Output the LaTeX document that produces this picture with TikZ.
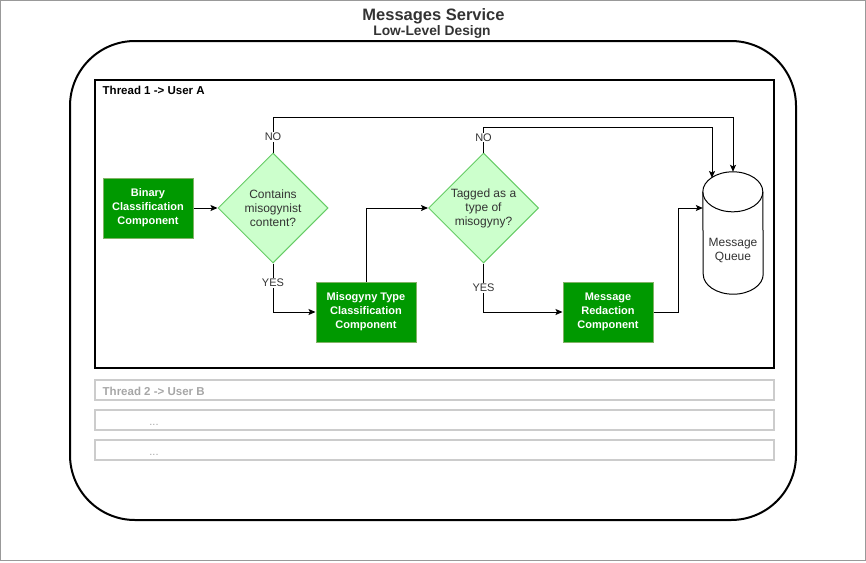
\documentclass[tikz,border=0pt]{standalone}
\usepackage{fontspec}
\setmainfont{Liberation Sans}
\usetikzlibrary{shapes.geometric,arrows.meta,positioning}

\definecolor{boxgreen}{HTML}{009900}
\definecolor{boxedge}{HTML}{82B366}
\definecolor{decfill}{HTML}{CCFFCC}
\definecolor{decedge}{HTML}{66CC66}
\definecolor{txtdark}{HTML}{333333}
\definecolor{thrgray}{HTML}{CCCCCC}
\definecolor{thrtext}{HTML}{A6A6A6}
\definecolor{pagegray}{HTML}{999999}

\tikzset{
	comp/.style={rectangle,fill=boxgreen,draw=boxedge,line width=1pt,text=white,
		font=\fontsize{11}{14}\selectfont\bfseries,align=center,minimum height=60pt,inner sep=0pt},
	decision/.style={diamond,aspect=1,fill=decfill,draw=decedge,line width=1pt,text=txtdark,
		font=\fontsize{12}{14}\selectfont,align=center,minimum width=110pt,minimum height=110pt,inner sep=0pt},
	lbl/.style={fill=white,text=txtdark,font=\fontsize{11}{13}\selectfont,inner sep=1pt},
	thread/.style={rectangle,line width=2pt,inner sep=0pt,minimum width=679pt},
	thrlbl/.style={font=\fontsize{11.5}{14}\selectfont\bfseries,inner sep=0pt,anchor=base west}
}

\begin{document}
\begin{tikzpicture}[x=1pt,y=-1pt,>={Stealth[length=7pt,width=6pt,inset=1.5pt]}]
			\useasboundingbox (0,0) rectangle (866,562);
			\draw [pagegray] (0.5,0.5) rectangle (865.5,560.5);
			
			% title
			\node [font=\fontsize{16.5}{18}\selectfont\bfseries,text=txtdark,anchor=base] (title) at (433.5,20) {Messages Service};
			\node [font=\fontsize{13.8}{16}\selectfont\bfseries,text=txtdark,anchor=base] (subtitle) at (432,35.5) {Low-Level Design};
			
			% frames
			\node [draw,line width=2pt,rounded corners=65pt,minimum width=726pt,minimum height=479pt] (service) at (433,280.5) {};
			\node [thread,draw=black,minimum height=288pt] (thr1) at (434.5,224) {};
			\begin{scope}[every node/.style={thread,draw=thrgray,minimum height=20pt}]
				\node (thr2) at (434.5,390) {};
				\node (thr3) at (434.5,420) {};
				\node (thr4) at (434.5,450) {};
			\end{scope}
			\node [thrlbl] (thr1lbl) at (102.5,94.5) {Thread 1 -> User A};
			\node [thrlbl,text=thrtext] (thr2lbl) at (102.5,395) {Thread 2 -> User B};
			\node [text=thrtext,font=\fontsize{11}{13}\selectfont,anchor=base,inner sep=0pt] (thr3lbl) at (154,425) {...};
			\node [text=thrtext,font=\fontsize{11}{13}\selectfont,anchor=base,inner sep=0pt] (thr4lbl) at (154,455) {...};
			
			% steps
			\node [comp,minimum width=90pt] (bin) at (148,208) {Binary\\Classification\\Component};
			\node [decision] (d1) at (273,208) {Contains\\misogynist\\content?};
			\node [comp,minimum width=100pt] (mtype) at (366,312) {Misogyny Type\\Classification\\Component};
			\node [decision] (d2) at (483.5,208) {Tagged as a\\type of\\misogyny?};
			\node [comp,minimum width=90pt] (red) at (608,312) {Message\\Redaction\\Component};
			
			% queue
			\node [minimum width=60pt,minimum height=122pt,inner sep=0pt] (queue) at (733,233) {};
			\path [draw,fill=white,line width=1pt] ([yshift=-20pt]queue.north west)
				arc [start angle=180,end angle=0,x radius=30pt,y radius=20pt]
				-- ([yshift=20pt]queue.south east)
				arc [start angle=0,end angle=-180,x radius=30pt,y radius=20pt] -- cycle;
			\draw [line width=1pt] ([yshift=-20pt]queue.north west) arc [start angle=180,end angle=360,x radius=30pt,y radius=20pt];
			\node [font=\fontsize{12}{14}\selectfont,text=txtdark,align=center] (qtxt) at ([yshift=-18pt]queue.center) {Message\\Queue};
			\coordinate (qin) at (712,178);
			
			\begin{scope}[every path/.style={line width=1pt}]
				\path [->] (bin) edge (d1);
				\draw [->] (d1.north) -- node [lbl,pos=0.45] {NO} ++(0,-35) -| (queue.north);
				\draw [->] (d1.south) |- node [lbl,pos=0.2] {YES} (mtype.west);
				\draw [->] (mtype.north) |- (d2.west);
				\draw [->] (d2.north) -- node [lbl,pos=0.6] {NO} ++(0,-25) -| (qin);
				\draw [->] (d2.south) |- node [lbl,pos=0.25] {YES} (red.west);
				\draw [->] (red.east) -- ++(25,0) |- (queue.west |- d2.west);
			\end{scope}
		\end{tikzpicture}
\end{document}
